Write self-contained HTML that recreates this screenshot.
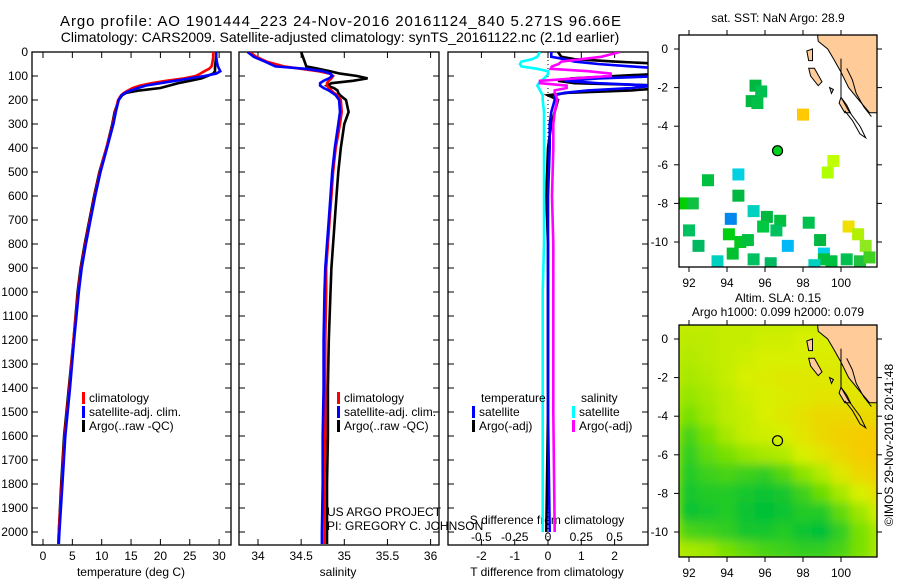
<!DOCTYPE html>
<html><head><meta charset="utf-8">
<style>
html,body{margin:0;padding:0;background:#fff;}
svg{display:block;font-family:"Liberation Sans",sans-serif;}
text{fill:#000;}
</style></head>
<body>
<svg id="fig" width="900" height="580" viewBox="0 0 900 580" xmlns="http://www.w3.org/2000/svg">
<defs>
<clipPath id="c1"><rect x="32" y="52" width="199" height="493"/></clipPath>
<clipPath id="c2"><rect x="239" y="52" width="200" height="493"/></clipPath>
<clipPath id="c3"><rect x="448" y="52" width="200" height="493"/></clipPath>
<clipPath id="cm1"><rect x="679" y="35" width="198" height="232"/></clipPath>
<clipPath id="cm2"><rect x="679" y="325" width="198" height="232"/></clipPath>
<filter id="blur" x="-5%" y="-5%" width="110%" height="110%"><feGaussianBlur stdDeviation="5"/></filter>
</defs>
<text x="60" y="26" font-size="15" textLength="561" lengthAdjust="spacing">Argo profile: AO 1901444_223 24-Nov-2016 20161124_840 5.271S 96.66E</text>
<text x="340" y="42" font-size="14" text-anchor="middle">Climatology: CARS2009. Satellite-adjusted climatology: synTS_20161122.nc (2.1d earlier)</text>
<text x="778" y="22" font-size="12" text-anchor="middle">sat. SST: NaN Argo: 28.9</text>
<text x="778" y="302" font-size="12" text-anchor="middle">Altim. SLA: 0.15</text>
<text x="778" y="316" font-size="12" text-anchor="middle">Argo h1000: 0.099 h2000: 0.079</text>
<text transform="translate(893,445) rotate(-90)" font-size="12" text-anchor="middle">©IMOS 29-Nov-2016 20:41:48</text>
<g id="g"></g>
</svg>
<script>
const depth = [0,20,40,60,70,80,90,100,110,120,130,140,150,160,170,180,200,250,300,400,500,600,700,800,900,1000,1200,1400,1600,1800,2000,2050];
const tempClim = [29.0,29.0,28.9,28.7,28.3,27.5,26.8,26.0,24.0,21.0,18.5,16.5,15.3,14.5,13.8,13.3,12.8,12.3,11.9,10.8,9.7,8.8,8.0,7.2,6.5,6.0,5.2,4.5,3.7,3.2,2.7,2.6];
const tempSat = [29.5,29.5,29.6,29.8,30.0,30.2,29.5,27.5,25.0,22.5,20.0,17.5,16.2,15.0,14.0,13.4,12.9,12.4,12.0,10.9,9.8,8.9,8.1,7.3,6.6,6.1,5.3,4.6,3.8,3.3,2.8,2.7];
const tempArgo = [29.5,29.5,29.4,29.3,29.3,29.3,29.0,28.0,27.0,25.0,23.0,21.5,20.0,16.5,14.2,13.5,12.9,12.2,11.8,10.8,9.6,8.7,7.9,7.1,6.4,5.9,5.2,4.4,3.6,3.1,2.7,2.6];
const salClim = [33.9,33.98,34.1,34.3,34.5,34.7,34.83,34.87,34.85,34.82,34.8,34.8,34.82,34.85,34.88,34.92,34.96,34.97,34.95,34.9,34.87,34.85,34.83,34.81,34.79,34.79,34.78,34.78,34.78,34.77,34.77,34.77];
const salSat = [33.88,33.95,34.08,34.2,34.55,34.75,34.84,34.86,34.82,34.76,34.72,34.72,34.76,34.82,34.86,34.9,34.94,34.95,34.93,34.89,34.86,34.84,34.82,34.8,34.78,34.77,34.76,34.76,34.75,34.75,34.74,34.74];
const salArgo = [34.5,34.52,34.54,34.56,34.7,34.83,34.95,35.15,35.27,35.1,34.85,34.8,34.88,34.92,34.93,34.95,35.02,35.05,35.0,34.96,34.93,34.91,34.89,34.87,34.85,34.84,34.82,34.81,34.81,34.8,34.8,34.8];
// difference panel
const depthDiff = [0,20,30,40,50,60,70,80,90,100,110,120,130,140,150,160,170,180,200,250,300,400,600,800,1000,1500,2000];
const tdiffSat = [0.1,0.1,0.5,0.8,1.5,2.5,3.5,3.5,3.5,3.5,1.5,0.5,1.5,3.2,2.5,1.2,0.5,0.2,0.2,0.1,0.05,0.05,0.0,0.0,0.0,0.0,0.05];
const tdiffArgo = [0.3,0.4,0.8,2.0,3.5,3.5,3.5,3.5,3.5,2.0,0.7,0.3,0.8,3.5,3.5,2.5,0.6,0.0,0.3,0.2,0.1,0.0,-0.05,0.0,0.0,0.0,-0.05];
const sdiffSat = [-0.06,-0.08,-0.12,-0.2,-0.21,-0.2,-0.08,0,0,-0.01,-0.03,-0.05,-0.07,-0.08,-0.07,-0.06,-0.05,-0.04,-0.04,-0.03,-0.03,-0.03,-0.03,-0.03,-0.04,-0.04,-0.04];
const sdiffArgo = [0.54,0.4,0.25,0.1,0.08,0.03,0.02,0.3,0.47,0.47,0.2,-0.06,-0.06,0.14,0.14,0.05,0.05,0.06,0.07,0.05,0.04,0.04,0.03,0.04,0.04,0.04,0.05];
const depthTicks = [0,100,200,300,400,500,600,700,800,900,1000,1100,1200,1300,1400,1500,1600,1700,1800,1900,2000];
const tempTicks = [0,5,10,15,20,25,30];
const salTicks = [34,34.5,35,35.5,36];
const tdiffTicks = [-2,-1,0,1,2];
const sdiffTicks = [-0.5,-0.25,0,0.25,0.5];
const lonTicks = [92,94,96,98,100];
const latTicks = [0,-2,-4,-6,-8,-10];
const slaGrid = [
[1.7,1.7,1.8,1.8,1.9,1.9,2.0,2.0,2.0,2.0,2.0],
[1.6,1.7,1.8,1.9,2.0,2.0,2.0,2.1,2.1,2.1,2.1],
[1.5,1.6,1.8,2.0,2.1,2.2,2.2,2.2,2.2,2.2,2.2],
[1.3,1.5,1.7,1.9,2.0,2.1,2.2,2.3,2.3,2.3,2.3],
[1.0,1.4,1.7,1.8,2.0,2.2,2.4,2.6,2.6,2.6,2.6],
[0.6,1.0,1.5,1.8,1.9,2.0,2.3,2.6,2.8,2.9,2.9],
[0.4,0.8,1.0,1.3,1.5,1.6,2.0,2.3,2.6,2.9,3.0],
[0.3,0.5,0.6,0.5,0.4,0.7,1.2,1.6,2.2,2.6,2.8],
[0.2,0.3,0.3,0.2,0.1,0.2,0.5,0.9,1.5,2.0,2.4],
[0.1,0.2,0.3,0.1,0.0,0.1,0.3,0.3,0.8,1.4,1.9],
[0.6,0.5,0.4,0.2,0.2,0.3,0.1,0.0,0.4,1.0,1.5],
[1.5,1.4,1.0,0.8,0.6,0.5,0.4,0.4,0.6,1.0,1.5]];
const sstLon = [95.5,95.8,95.3,95.6,98.0,99.6,99.3,93.0,94.6,94.6,91.7,92.2,94.2,95.4,96.1,96.8,95.9,96.6,98.3,98.9,97.2,99.1,99.1,100.4,100.9,101.3,92.0,92.5,94.1,94.7,95.1,94.3,93.5,95.4,96.3,98.6,99.5,100.3,101.0,101.5];
const sstLat = [-1.9,-2.2,-2.7,-2.8,-3.4,-5.8,-6.4,-6.8,-6.5,-7.6,-8.0,-8.0,-8.8,-8.4,-8.7,-8.9,-9.2,-9.4,-9.0,-9.9,-10.2,-10.6,-10.9,-9.2,-9.6,-10.2,-9.4,-10.2,-9.6,-10.0,-9.9,-10.6,-11.0,-10.9,-11.1,-11.2,-11.0,-10.9,-11.0,-10.8];
const sstCol = ["#00b840","#00c050","#00b840","#00c048","#ffc800","#c0ff00","#b0ff00","#00c040","#00d0e0","#00b840","#00d000","#10c040","#0088ee","#00d0c0","#00b840","#00c040","#00c840","#00c060","#00c050","#00b840","#00b8f8","#00d0e8","#00c040","#f0e000","#b0f000","#90e820","#00c060","#00b860","#00d010","#00c820","#00c040","#00c030","#00d0c0","#00c060","#00b860","#00d0c0","#00c040","#00c050","#20c040","#40d020"];

const NS='http://www.w3.org/2000/svg';
const G=document.getElementById('g');
function el(tag,attrs,parent){const e=document.createElementNS(NS,tag);for(const k in attrs)e.setAttribute(k,attrs[k]);(parent||G).appendChild(e);return e;}
function txt(x,y,s,size,anchor,parent){const t=el('text',{x:x,y:y,'font-size':size,'text-anchor':anchor||'middle'},parent);t.textContent=s;return t;}

const yD = d => 52 + d*0.24;
const xT = t => 43 + t*5.87;
const xS = s => 258 + (s-34)*86.3;
const xTd = v => 548 + v*33.3;
const xSd = v => 548 + v*133.2;
const mLon = l => 689 + (l-92)*19;
const mLat = (l,top) => top + 14 + (0-l)*19.3;

function panel(x0,w,name){
  const r=el('rect',{x:x0,y:52,width:w,height:493,fill:'none',stroke:'#000','stroke-width':1.3});
  
  
  depthTicks.forEach(d=>{el('line',{x1:x0,x2:x0+6,y1:yD(d),y2:yD(d),stroke:'#000'});el('line',{x1:x0+w-6,x2:x0+w,y1:yD(d),y2:yD(d),stroke:'#000'});});
}
panel(32,199,'temperature-panel');panel(239,200,'salinity-panel');panel(448,200,'difference-panel');
depthTicks.forEach(d=>{const t=txt(28,yD(d)+4,String(d),12,'end');

});

function xAxis(ticks,fx,labelY){ticks.forEach(v=>{const x=fx(v);el('line',{x1:x,x2:x,y1:545,y2:539,stroke:'#000'});el('line',{x1:x,x2:x,y1:52,y2:58,stroke:'#000'});const t=txt(x,labelY,String(v),12);

});}
xAxis(tempTicks,xT,560);
xAxis(salTicks,xS,560);
xAxis(tdiffTicks,xTd,560);
sdiffTicks.forEach(v=>{const t=txt(xSd(v),541,String(v),12);

});
let t;
t=txt(131,576,'temperature (deg C)',12);
t=txt(338,576,'salinity',12);
t=txt(547,576,'T difference from climatology',12);
t=txt(547,524,'S difference from climatology',12);
t=txt(327,516,'US ARGO PROJECT',12,'start');
t=txt(327,530,'PI: GREGORY C. JOHNSON',12,'start');

el('line',{x1:548,x2:548,y1:52,y2:545,stroke:'#000','stroke-dasharray':'1,3'});

function line(vals,dep,fx,color,clip,name){
  const d=vals.map((v,i)=>(i?'L':'M')+fx(v).toFixed(1)+','+yD(dep[i]).toFixed(1)).join('');
  const p=el('path',{d:d,fill:'none',stroke:color,'stroke-width':2.6,'clip-path':'url(#'+clip+')'});
  
  
}
line(tempArgo,depth,xT,'#000','c1','temp-argo-line');
line(tempClim,depth,xT,'#f00','c1','temp-climatology-line');
line(tempSat,depth,xT,'#00f','c1','temp-satellite-line');
line(salArgo,depth,xS,'#000','c2','sal-argo-line');
line(salClim,depth,xS,'#f00','c2','sal-climatology-line');
line(salSat,depth,xS,'#00f','c2','sal-satellite-line');
line(tdiffArgo,depthDiff,xTd,'#000','c3','tdiff-argo-line');
line(tdiffSat,depthDiff,xTd,'#00f','c3','tdiff-satellite-line');
line(sdiffSat,depthDiff,xSd,'#0ff','c3','sdiff-satellite-line');
line(sdiffArgo,depthDiff,xSd,'#f0f','c3','sdiff-argo-line');

function legItem(x,y,color,label,name){
  const g=el('g',{});
  
  
  el('rect',{x:x,y:y-10,width:3,height:12,fill:color},g);
  txt(x+7,y,label,12,'start',g);
}
legItem(82,402,'#f00','climatology','legend-climatology');
legItem(82,416,'#00f','satellite-adj. clim.','legend-satellite');
legItem(82,430,'#000','Argo(..raw -QC)','legend-argo');
legItem(337,402,'#f00','climatology','legend-climatology-sal');
legItem(337,416,'#00f','satellite-adj. clim.','legend-satellite-sal');
legItem(337,430,'#000','Argo(..raw -QC)','legend-argo-sal');
t=txt(481,402,'temperature',12,'start');
t=txt(581,402,'salinity',12,'start');
legItem(472,416,'#00f','satellite','legend-t-satellite');
legItem(472,430,'#000','Argo(-adj)','legend-t-argo');
legItem(572,416,'#0ff','satellite','legend-s-satellite');
legItem(572,430,'#f0f','Argo(-adj)','legend-s-argo');

function slaColor(v){const stops=[[0,[0,192,56]],[1,[120,224,0]],[2,[216,240,0]],[3,[248,200,0]]];
 v=Math.max(0,Math.min(3,v));const i=Math.min(2,Math.floor(v));const f=v-i;const a=stops[i][1],b=stops[i+1][1];
 return 'rgb('+a.map((c,k)=>Math.round(c+(b[k]-c)*f)).join(',')+')';}
function coast(top,g,landFill){
  const pts=[[98.75,0.9],[98.8,0.4],[99.3,0.0],[99.6,-0.5],[100.0,-1.2],[100.4,-2.0],[100.9,-2.6],[101.5,-3.3],[102.5,-3.3],[102.5,0.9]];
  el('polygon',{points:pts.map(p=>mLon(p[0])+','+mLat(p[1],top)).join(' '),fill:landFill,stroke:'#000','stroke-width':1},g);
  const isl=[[[98.3,-1.0],[98.6,-1.0],[99.0,-1.7],[98.8,-1.9],[98.4,-1.4]],[[100.0,-2.5],[100.3,-2.9],[100.5,-3.3],[100.2,-3.3],[99.9,-2.8]],[[99.4,-2.0],[99.6,-2.1],[99.5,-2.3]],[[98.2,-0.1],[98.5,0.0],[98.5,-0.6],[98.3,-0.6]]];
  isl.forEach(p=>el('polygon',{points:p.map(q=>mLon(q[0])+','+mLat(q[1],top)).join(' '),fill:landFill,stroke:'#000','stroke-width':1},g));
  const l1=[[100.0,-0.5],[100.0,-2.5],[100.4,-3.2],[101.0,-4.0],[101.3,-4.6],[101.0,-4.4],[100.6,-3.7],[100.2,-3.2]];
  el('polyline',{points:l1.map(q=>mLon(q[0])+','+mLat(q[1],top)).join(' '),fill:'none',stroke:'#000','stroke-width':1},g);
  const l2=[[100.3,-1.0],[100.6,-1.6],[100.8,-2.3],[101.2,-3.0],[101.6,-3.5]];
  el('polyline',{points:l2.map(q=>mLon(q[0])+','+mLat(q[1],top)).join(' '),fill:'none',stroke:'#000','stroke-width':1},g);
}
function mapAxes(top,name){
  const r=el('rect',{x:679,y:top,width:198,height:232,fill:'none',stroke:'#000','stroke-width':1.3});
  
  
  lonTicks.forEach(l=>{const x=mLon(l);el('line',{x1:x,x2:x,y1:top,y2:top-5,stroke:'#000'});el('line',{x1:x,x2:x,y1:top+232,y2:top+237,stroke:'#000'});const t=txt(x,top+252,String(l),12);
  
  });
  latTicks.forEach(l=>{const y=mLat(l,top);el('line',{x1:679,x2:674,y1:y,y2:y,stroke:'#000'});el('line',{x1:877,x2:882,y1:y,y2:y,stroke:'#000'});const t=txt(668,y+4,String(l),12,'end');
  
  });
}
const g1=el('g',{'clip-path':'url(#cm1)'});


sstLon.forEach((lo,i)=>{const r=el('rect',{x:mLon(lo)-6,y:mLat(sstLat[i],35)-6,width:12,height:12,fill:sstCol[i]},g1);

});
coast(35,g1,'#ffcc99');
el('circle',{cx:mLon(96.66),cy:mLat(-5.27,35),r:5,fill:'#00d020',stroke:'#000','stroke-width':1.2},g1);
mapAxes(35,'sst-map-frame');
const g2=el('g',{'clip-path':'url(#cm2)'});


el('rect',{x:679,y:325,width:198,height:232,fill:slaColor(1.8)},g2);
const gb=el('g',{filter:'url(#blur)'},g2);
slaGrid.forEach((row,ri)=>row.forEach((v,ci)=>{const r=el('rect',{x:mLon(91.5+ci)-0.5,y:mLat(0.5-ri,325)-0.5,width:20,height:20.3,fill:slaColor(v)},gb);

}));
coast(325,g2,'#ffcc99');
el('circle',{cx:mLon(96.66),cy:mLat(-5.27,325),r:5,fill:'none',stroke:'#000','stroke-width':1.2},g2);
mapAxes(325,'sla-map-frame');
</script>
</body></html>
